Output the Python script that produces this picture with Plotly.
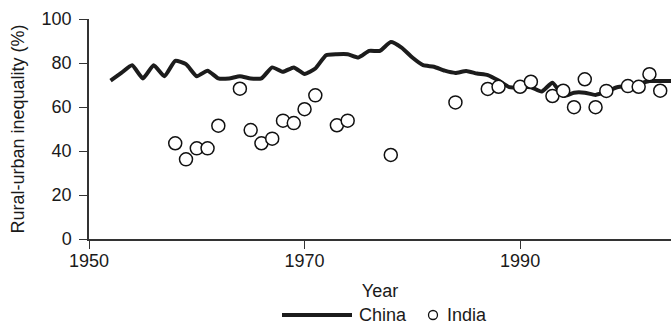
import plotly.graph_objects as go

# China: annual rural-urban inequality (%)
china_years = list(range(1952, 2005))
china_values = [
    72, 75.5, 79, 73, 79, 74, 81, 79.5, 74, 76.5,
    73, 73, 74, 73, 73, 78, 76, 78, 75, 77.5,
    83.5, 84, 84, 82.5, 85.5, 85.5, 89.5, 87, 82.5, 79,
    78.3, 76.5, 75.5, 76.4, 75.2, 74.5, 72, 69, 69, 69,
    67, 71, 65, 66.5, 66.5, 65.5, 67, 69, 69.7, 70.5,
    71.8, 71.8, 71.8,
]

# India: survey-year observations (%)
india_years = [
    1958, 1959, 1960, 1961, 1962, 1964, 1965, 1966, 1967, 1968,
    1969, 1970, 1971, 1973, 1974, 1978, 1984, 1987, 1988, 1990,
    1991, 1993, 1994, 1995, 1996, 1997, 1998, 2000, 2001, 2002, 2003,
]
india_values = [
    43.5, 36.2, 41.2, 41.2, 51.5, 68.3, 49.5, 43.5, 45.6, 53.8,
    52.7, 59, 65.3, 51.7, 53.8, 38.2, 62.1, 68.2, 69.2, 69.2,
    71.5, 65, 67.4, 59.9, 72.6, 59.9, 67.3, 69.5, 69.2, 74.9, 67.4,
]

x_ticks = [1950, 1970, 1990]
y_ticks = [0, 20, 40, 60, 80, 100]

FONT = "Liberation Sans, Arial, Helvetica, sans-serif"
INK = "#1a1a1a"
W, H = 671, 326
M_L, M_R, M_T, M_B = 89, 0, 19, 87
PW, PH = W - M_L - M_R, H - M_T - M_B


def px_to_paper(px, py):
    """Convert figure pixel position to paper coordinates."""
    return (px - M_L) / PW, (H - M_B - py) / PH


fig = go.Figure()
fig.add_trace(go.Scatter(
    x=china_years, y=china_values, mode="lines", name="China",
    line=dict(color="#1c1c1c", width=4, shape="spline", smoothing=0.5),
    showlegend=False,
))
fig.add_trace(go.Scatter(
    x=india_years, y=india_values, mode="markers", name="India",
    marker=dict(symbol="circle", size=13, color="white",
                line=dict(color="#111111", width=1.5)),
    showlegend=False,
))

# Legend row beneath the axis title
ly = 315
x0, y0 = px_to_paper(282, ly)
x1, _ = px_to_paper(352, ly)
fig.add_shape(type="line", xref="paper", yref="paper", x0=x0, x1=x1,
              y0=y0, y1=y0, line=dict(color="#1c1c1c", width=4))
tx, _ = px_to_paper(357, ly)
fig.add_annotation(text="China", xref="paper", yref="paper", x=tx, y=y0,
                   xanchor="left", yanchor="middle", showarrow=False,
                   font=dict(size=18, color=INK))
cx, _ = px_to_paper(433, ly)
fig.add_shape(type="circle", xref="paper", yref="paper",
              xsizemode="pixel", ysizemode="pixel", xanchor=cx, yanchor=y0,
              x0=-4.5, x1=4.5, y0=-4.5, y1=4.5,
              line=dict(color="#111111", width=1.3), fillcolor="white")
ix, _ = px_to_paper(445, ly)
fig.add_annotation(text="India", xref="paper", yref="paper", x=ix, y=y0,
                   xanchor="left", yanchor="middle", showarrow=False,
                   font=dict(size=18, color=INK))

fig.update_layout(
    width=W, height=H,
    margin=dict(l=M_L, r=M_R, t=M_T, b=M_B),
    paper_bgcolor="white", plot_bgcolor="white",
    font=dict(family=FONT, size=18, color=INK),
    showlegend=False,
    xaxis=dict(
        range=[1950, 2004], tickvals=x_ticks, ticks="outside", ticklen=8,
        tickwidth=1.3, tickcolor="#333", showline=True, linecolor="#333",
        linewidth=1.5, showgrid=False, zeroline=False,
        ticklabelstandoff=-3,
        title=dict(text="Year", standoff=14, font=dict(size=18)),
        tickfont=dict(size=18),
    ),
    yaxis=dict(
        range=[0, 100], tickvals=y_ticks, ticks="outside", ticklen=8,
        tickwidth=1.3, tickcolor="#333", showline=True, linecolor="#333",
        linewidth=1.5, showgrid=False, zeroline=False,
        ticklabelstandoff=4,
        title=dict(text="Rural-urban inequality (%)", standoff=12,
                   font=dict(size=18)),
        tickfont=dict(size=18),
    ),
)

fig.write_html("out.html")
